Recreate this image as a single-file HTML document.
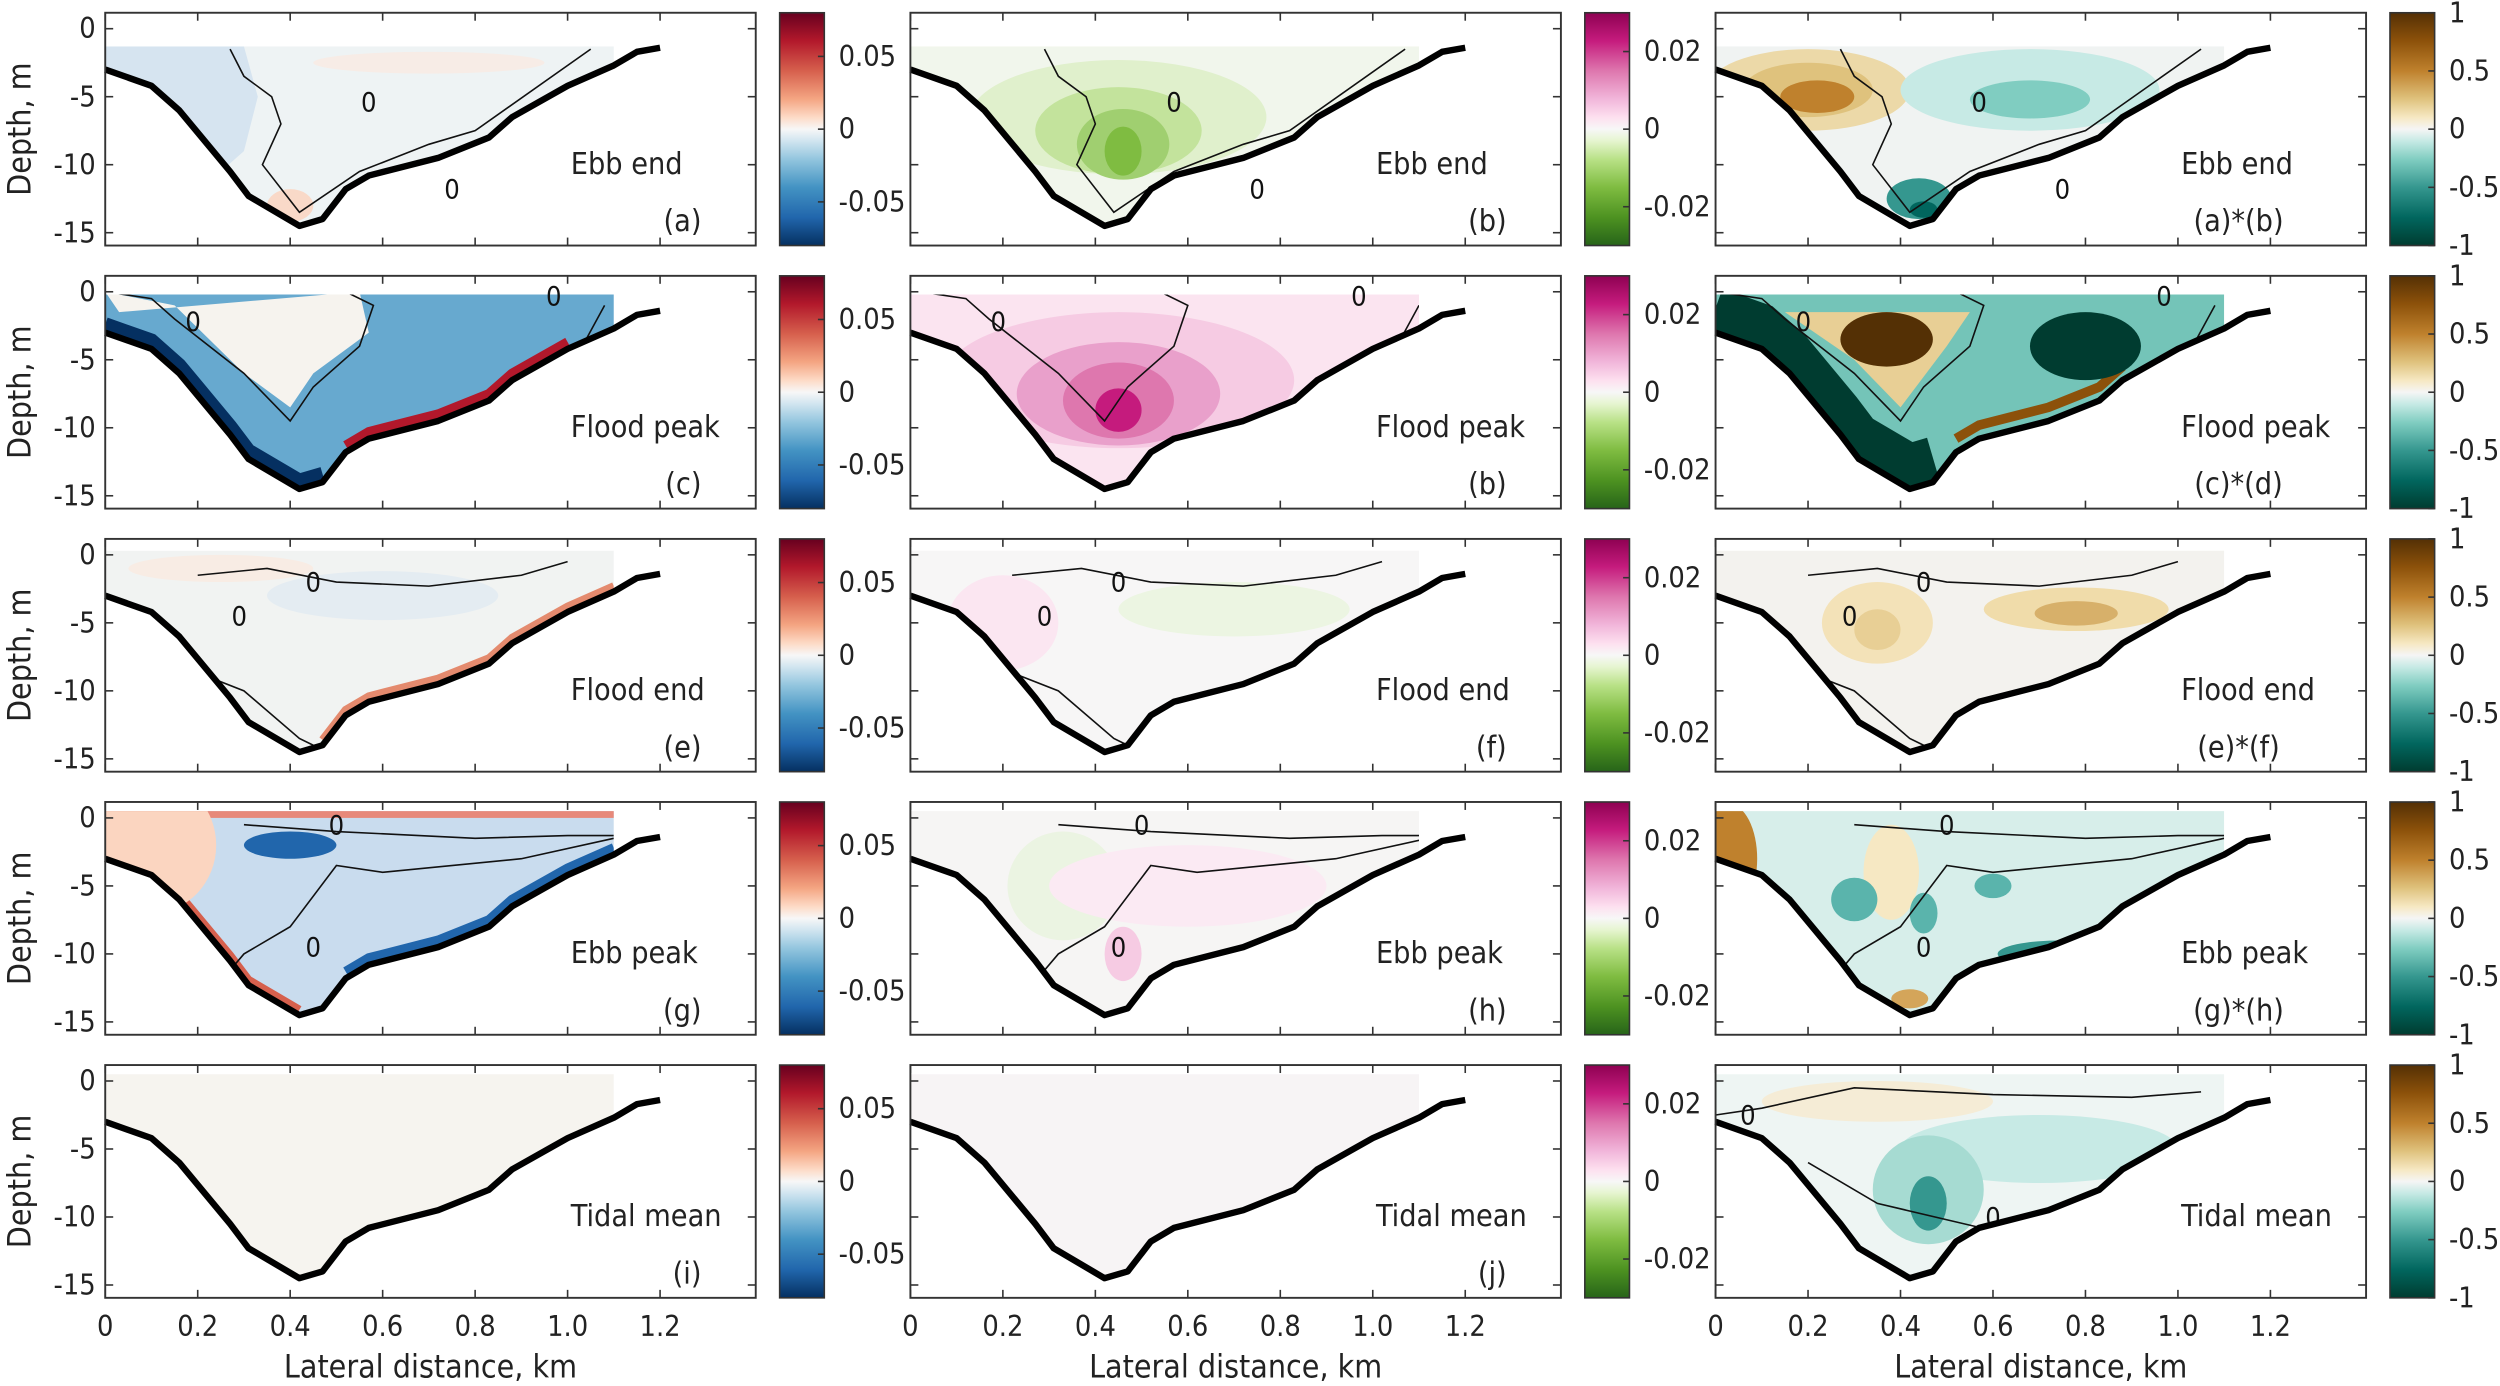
<!DOCTYPE html>
<html><head><meta charset="utf-8">
<style>
html,body{margin:0;padding:0;background:#fff;}
svg{display:block;font-family:"DejaVu Sans Condensed","DejaVu Sans","Liberation Sans",sans-serif;font-stretch:condensed;}
</style></head>
<body>
<svg id="fig" width="2500" height="1386" viewBox="0 0 1568 869.3" preserveAspectRatio="none" xmlns="http://www.w3.org/2000/svg">
<defs>
<linearGradient id="cmRdBu" x1="0" y1="0" x2="0" y2="1">
<stop offset="0" stop-color="#67001f"/><stop offset="0.12" stop-color="#b2182b"/><stop offset="0.25" stop-color="#d6604d"/><stop offset="0.37" stop-color="#f4a582"/><stop offset="0.45" stop-color="#fddbc7"/><stop offset="0.5" stop-color="#f7f7f7"/><stop offset="0.55" stop-color="#d1e5f0"/><stop offset="0.63" stop-color="#92c5de"/><stop offset="0.75" stop-color="#4393c3"/><stop offset="0.88" stop-color="#2166ac"/><stop offset="1" stop-color="#053061"/>
</linearGradient>
<linearGradient id="cmPiYG" x1="0" y1="0" x2="0" y2="1">
<stop offset="0" stop-color="#8e0152"/><stop offset="0.12" stop-color="#c51b7d"/><stop offset="0.25" stop-color="#de77ae"/><stop offset="0.37" stop-color="#f1b6da"/><stop offset="0.45" stop-color="#fde0ef"/><stop offset="0.5" stop-color="#f7f7f7"/><stop offset="0.55" stop-color="#e6f5d0"/><stop offset="0.63" stop-color="#b8e186"/><stop offset="0.75" stop-color="#7fbc41"/><stop offset="0.88" stop-color="#4d9221"/><stop offset="1" stop-color="#276419"/>
</linearGradient>
<linearGradient id="cmBrBG" x1="0" y1="0" x2="0" y2="1">
<stop offset="0" stop-color="#543005"/><stop offset="0.12" stop-color="#8c510a"/><stop offset="0.25" stop-color="#bf812d"/><stop offset="0.37" stop-color="#dfc27d"/><stop offset="0.45" stop-color="#f6e8c3"/><stop offset="0.5" stop-color="#f5f5f5"/><stop offset="0.55" stop-color="#c7eae5"/><stop offset="0.63" stop-color="#80cdc1"/><stop offset="0.75" stop-color="#35978f"/><stop offset="0.88" stop-color="#01665e"/><stop offset="1" stop-color="#003c30"/>
</linearGradient>
</defs>
</svg>
<script>
// ---- data ----
const profileX = [0,0.1,0.16,0.27,0.31,0.42,0.47,0.52,0.57,0.72,0.83,0.88,1.0,1.1,1.15,1.2];
const profileD = [-3,-4.2,-6,-10.5,-12.3,-14.5,-14,-11.8,-10.8,-9.5,-8,-6.5,-4.2,-2.7,-1.7,-1.4];
const xTicks = [0,0.2,0.4,0.6,0.8,1.0,1.2];
const xTickLabels = ["0","0.2","0.4","0.6","0.8","1.0","1.2"];
const yTicks = [0,-5,-10,-15];
const rowLabels = ["Ebb end","Flood peak","Flood end","Ebb peak","Tidal mean"];
const panelTags = [["(a)","(b)","(a)*(b)"],["(c)","(b)","(c)*(d)"],["(e)","(f)","(e)*(f)"],["(g)","(h)","(g)*(h)"],["(i)","(j)",""]];
const surfaceLevel = [-1.3,-0.2,0.3,0.5,0.5];
const cbTicks1 = [0.05,0,-0.05]; const cbLabels1=["0.05","0","-0.05"]; const cbMax1=0.08;
const cbTicks2 = [0.02,0,-0.02]; const cbLabels2=["0.02","0","-0.02"]; const cbMax2=0.03;
const cbTicks3 = [1,0.5,0,-0.5,-1]; const cbLabels3=["1","0.5","0","-0.5","-1"]; const cbMax3=1;
const baseColors = [["#eef3f4","#f1f6ec","#f0f3f2"],["#67a9cf","#fbe4f0","#74c4b8"],["#f1f3f2","#f7f6f6","#f3f2ee"],["#c9dcee","#f6f5f4","#d7eeea"],["#f6f4ef","#f7f4f5","#eef5f3"]];
// polygon regions [xs km, ds m, colour]
const regions = [
 [[[[0,0.3,0.33,0.3,0.25,0.12,0],[-1.3,-1.3,-5,-9,-10.5,-6,-3],"#d6e4f0"]],[],[]],
 [[[[0,0.03,0.55,0.57,0.45,0.4,0.3,0.15],[0,-1.5,0,-3,-6,-8.5,-6,-1],"#f6f3ee"]],[],
  [[[[0.15,0.55,0.5,0.4,0.3],[-1.5,-1.5,-4,-8.5,-5],"#e8cf95"]]][0]],
 [[],[],[]],[[],[],[]],[[],[],[]]
];
const blobs = [
 [[[0.4,-13,0.05,1.2,"#f9d9c8"],[0.7,-2.5,0.25,0.8,"#f7ece6"]],
  [[0.45,-6.5,0.32,4.2,"#e0f0cc"],[0.45,-7.5,0.18,3.2,"#c3e39c"],[0.46,-8.5,0.1,2.6,"#a0cf70"],[0.46,-9,0.04,1.8,"#7fbc41"]],
  [[0.2,-4.5,0.22,3,"#ecd9a8"],[0.2,-4.5,0.14,2,"#dfc27d"],[0.22,-5,0.08,1.2,"#bf812d"],[0.68,-4.5,0.28,3,"#c7eae5"],[0.68,-5.2,0.13,1.4,"#80cdc1"],[0.44,-12.5,0.07,1.5,"#35978f"],[0.45,-13.3,0.03,0.6,"#01665e"]]],
 [[],
  [[0.45,-6.5,0.38,5,"#f6cbe3"],[0.45,-7.5,0.22,3.8,"#e9a0cb"],[0.45,-8,0.12,2.8,"#de77ae"],[0.45,-8.7,0.05,1.6,"#c51b7d"]],
  [[0.37,-3.5,0.1,2,"#543005"],[0.8,-4,0.12,2.5,"#003c30"]]],
 [[[0.25,-1,0.2,1,"#f8ece4"],[0.6,-3,0.25,1.8,"#e4ecf2"]],
  [[0.2,-5,0.12,3.5,"#fbe6f1"],[0.7,-4,0.25,2,"#ecf5e2"]],
  [[0.35,-5,0.12,3,"#f3e2b8"],[0.35,-5.5,0.05,1.5,"#e8cf95"],[0.78,-4,0.2,1.6,"#f0dcaa"],[0.78,-4.3,0.09,0.9,"#d7b06a"]]],
 [[[0.1,-2,0.14,5,"#fbd5c0"],[0.4,-2,0.1,1,"#2166ac"]],
  [[0.33,-5,0.12,4,"#ebf4e2"],[0.6,-5,0.3,3,"#fbeaf3"],[0.46,-10,0.04,2,"#f6cbe3"]],
  [[0.03,-3,0.06,4,"#bf812d"],[0.38,-4,0.06,3.5,"#f6e8c3"],[0.3,-6,0.05,1.6,"#5ab4ac"],[0.45,-7,0.03,1.5,"#5ab4ac"],[0.6,-5,0.04,0.9,"#5ab4ac"],[0.75,-10,0.14,1,"#35978f"],[0.42,-13.3,0.04,0.7,"#d4a55a"]]],
 [[],[],
  [[0.35,-1.5,0.25,1.5,"#f5ecd6"],[0.7,-5,0.3,2.5,"#c7eae5"],[0.46,-8,0.12,4,"#a6dbd2"],[0.46,-9,0.04,2,"#35978f"]]]
];
const contours = [
 [[[0.27,0.3,0.36,0.38,0.34,0.42,0.55,0.7,0.8,1.05],[-1.5,-3.5,-5,-7,-10,-13.5,-10.5,-8.5,-7.5,-1.5]]],
 [[[0,0.1,0.15,0.3,0.4,0.45,0.55,0.58,0.52],[0,-0.5,-2,-6,-9.5,-7,-4,-1,0]],[[0.5,0.7,0.9,1.0,1.08],[-13.5,-11,-8,-6,-1]]],
 [[[0.2,0.35,0.5,0.7,0.9,1.0],[-1.5,-1,-2,-2.3,-1.5,-0.5]],[[0.15,0.3,0.42,0.45],[-8,-10,-13.5,-14]]],
 [[[0.3,0.5,0.8,1.0,1.1],[-0.5,-1,-1.5,-1.3,-1.3]],[[0.25,0.3,0.4,0.5,0.6,0.9,1.1],[-12,-10,-8,-3.5,-4,-3,-1.5]]],
 []
];
const zeroLabels = [[[0.57,-5.4],[0.75,-11.8]],[[0.19,-2.2],[0.97,-0.3]],[[0.45,-2],[0.29,-4.5]],[[0.5,-0.5],[0.45,-9.5]],[]];
const contours3Row5 = [[[0.0,0.1,0.3,0.6,0.9,1.05],[-2.5,-2,-0.5,-1,-1.2,-0.8]],[[0.2,0.35,0.6,0.8],[-6,-9,-11,-10]]];

// ---- layout ----
const NS="http://www.w3.org/2000/svg";
const svg=document.getElementById('fig');
const colLeft=[66,571,1076], rowTop=[8,173,338,503,668], AW=408, AH=146, PXKM=290, PXM=8.53;
const cbGrad=["cmRdBu","cmPiYG","cmBrBG"];
const cbT=[cbTicks1,cbTicks2,cbTicks3], cbL=[cbLabels1,cbLabels2,cbLabels3], cbM=[cbMax1,cbMax2,cbMax3];
function mk(tag,attrs,parent){const e=document.createElementNS(NS,tag);for(const k in attrs)e.setAttribute(k,attrs[k]);(parent||svg).appendChild(e);return e;}
function txt(s,attrs,parent){const e=mk('text',attrs,parent);e.textContent=s;return e;}

for(let r=0;r<5;r++){
 for(let c=0;c<3;c++){
  const L=colLeft[c], T=rowTop[r];
  const X=k=>L+k*PXKM, Y=d=>T+10+(-d)*PXM;
  const g=mk('g',{});
  
  
  let pts=[[X(0),Y(surfaceLevel[r])],[X(1.1),Y(surfaceLevel[r])]];
  pts.push([X(1.1),Y(-2.7)]);
  for(let i=profileX.length-1;i>=0;i--){ if(profileX[i]<=1.1) pts.push([X(profileX[i]),Y(profileD[i])]); }
  const cid='clip'+r+c;
  const cp=mk('clipPath',{id:cid},g);
  mk('polygon',{points:pts.map(p=>p.join(',')).join(' ')},cp);
  const field=mk('g',{'clip-path':'url(#'+cid+')'},g);
  
  
  mk('rect',{x:L,y:T,width:AW,height:AH,fill:baseColors[r][c]},field);
  if(r===1&&c===0){ mk('polyline',{points:profileX.slice(0,7).map((x,i)=>X(x)+','+Y(profileD[i]+0.6)).join(' '),fill:'none',stroke:'#053061','stroke-width':9},field);
    mk('polyline',{points:profileX.slice(7,13).map((x,i)=>X(x)+','+Y(profileD[i+7]+0.5)).join(' '),fill:'none',stroke:'#b2182b','stroke-width':6},field);}
  if(r===1&&c===2){ mk('polyline',{points:profileX.slice(0,7).map((x,i)=>X(x)+','+Y(profileD[i]+1.8)).join(' '),fill:'none',stroke:'#003c30','stroke-width':26},field);
    mk('polyline',{points:profileX.slice(7,12).map((x,i)=>X(x)+','+Y(profileD[i+7]+1)).join(' '),fill:'none',stroke:'#8c510a','stroke-width':6},field);}
  if(r===2&&c===0){ mk('polyline',{points:profileX.slice(6,14).map((x,i)=>X(x)+','+Y(profileD[i+6]+0.4)).join(' '),fill:'none',stroke:'#e48a6e','stroke-width':5},field);}
  if(r===3&&c===0){ mk('rect',{x:L,y:Y(1),width:AW,height:Y(0)-Y(1),fill:'#e7897a'},field);
    mk('polyline',{points:profileX.slice(7,14).map((x,i)=>X(x)+','+Y(profileD[i+7]+0.5)).join(' '),fill:'none',stroke:'#2166ac','stroke-width':6},field);
    mk('polyline',{points:profileX.slice(0,6).map((x,i)=>X(x)+','+Y(profileD[i]+0.4)).join(' '),fill:'none',stroke:'#d6604d','stroke-width':5},field);}
  for(const rg of regions[r][c]){
   const p=mk('polygon',{points:rg[0].map((x,i)=>X(x)+','+Y(rg[1][i])).join(' '),fill:rg[2]},field);
   
   
  }
  for(const b of blobs[r][c]){
   const e=mk('ellipse',{cx:X(b[0]),cy:Y(b[1]),rx:b[2]*PXKM,ry:b[3]*PXM,fill:b[4]},field);
   
   
  }
  const cset = (r===4&&c===2)?contours3Row5:contours[r];
  for(const cn of cset){
   const pl=mk('polyline',{points:cn[0].map((x,i)=>X(x+(c===1?0.02:0))+','+Y(cn[1][i])).join(' '),fill:'none',stroke:'#111','stroke-width':1},field);
   
   
  }
  const zls = (r===4&&c===2)?[[0.07,-2.5],[0.6,-10]]:zeroLabels[r];
  for(const zl of zls){
   const t=txt('0',{x:X(zl[0]),y:Y(zl[1])+6,'font-size':17,'text-anchor':'middle',fill:'#111'},g);
   
   
  }
  const bl=mk('polyline',{points:profileX.map((x,i)=>X(x)+','+Y(profileD[i])).join(' '),fill:'none',stroke:'#000','stroke-width':4,'stroke-linejoin':'round'},g);
  
  
  const box=mk('rect',{x:L,y:T,width:AW,height:AH,fill:'none',stroke:'#333','stroke-width':1.2},g);
  
  
  for(const k of xTicks){ mk('line',{x1:X(k),x2:X(k),y1:T+AH,y2:T+AH-5,stroke:'#333'},g); mk('line',{x1:X(k),x2:X(k),y1:T,y2:T+5,stroke:'#333'},g);}
  for(const d of yTicks){ mk('line',{x1:L,x2:L+5,y1:Y(d),y2:Y(d),stroke:'#333'},g); mk('line',{x1:L+AW,x2:L+AW-5,y1:Y(d),y2:Y(d),stroke:'#333'},g);
   if(c===0){const t=txt(String(d),{x:L-6,y:Y(d)+6,'font-size':18,'text-anchor':'end',fill:'#222'},g);
    }}
  const rl=txt(rowLabels[r],{x:L+292,y:T+101,'font-size':19,fill:'#222'},g);
  
  
  if(panelTags[r][c]){
   const pt=txt(panelTags[r][c],{x:c===2?L+328:L+374,y:T+137,'font-size':19,'text-anchor':c===2?'middle':'end',fill:'#222'},g);
   
   
  }
  const cbx=L+AW+15;
  const cb=mk('rect',{x:cbx,y:T,width:28,height:AH,fill:'url(#'+cbGrad[c]+')',stroke:'#333','stroke-width':1},g);
  
  
  cbT[c].forEach((v,i)=>{
   const yy=T+AH/2-(v/cbM[c])*(AH/2);
   mk('line',{x1:cbx+28,x2:cbx+24,y1:yy,y2:yy,stroke:'#333'},g);
   const t=txt(cbL[c][i],{x:cbx+37,y:yy+6,'font-size':18,fill:'#222'},g);
   
   
  });
  if(c===0){const yl=txt('Depth, m',{x:0,y:0,'font-size':20,'text-anchor':'middle',fill:'#222',transform:'translate(19,'+(T+AH/2)+') rotate(-90)'},g);
   }
  if(r===4){
   xTicks.forEach((k,i)=>{const t=txt(xTickLabels[i],{x:X(k),y:T+AH+24,'font-size':18,'text-anchor':'middle',fill:'#222'},g);
    });
   const xl=txt('Lateral distance, km',{x:L+204,y:T+AH+50,'font-size':20,'text-anchor':'middle',fill:'#222'},g);
   
  }
 }
}
</script>
</body></html>
